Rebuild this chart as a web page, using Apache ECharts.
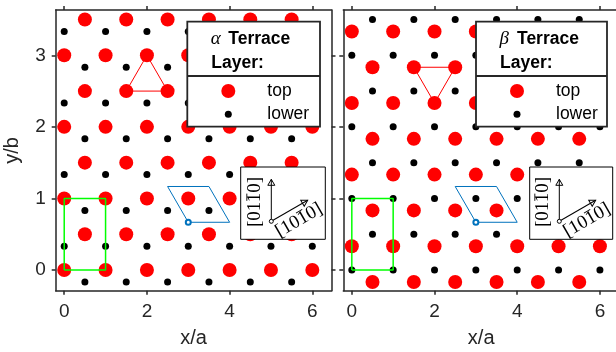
<!DOCTYPE html>
<html><head><meta charset="utf-8">
<script src="https://cdn.jsdelivr.net/npm/echarts@6/dist/echarts.min.js"></script>
<style>html,body{margin:0;padding:0;background:#fff}#c{width:616px;height:352px}</style>
</head><body><div id="c"></div>
<script>
// ---- lattice columns (x/a) ----
const intColumnsX = [0, 1, 2, 3, 4, 5, 6];
const halfColumnsX = [0.5, 1.5, 2.5, 3.5, 4.5, 5.5];
// ---- alpha terrace rows (y/b) ----
const alphaTopIntRowsY = [0, 1, 2, 3];
const alphaTopHalfRowsY = [0.5, 1.5, 2.5, 3.5];
const alphaLowerIntRowsY = [0.333, 1.333, 2.333, 3.333];
const alphaLowerHalfRowsY = [-0.167, 0.833, 1.833, 2.833];
// ---- beta terrace rows (y/b) ----
const betaTopIntRowsY = [0.333, 1.333, 2.333, 3.333];
const betaTopHalfRowsY = [-0.167, 0.833, 1.833, 2.833];
const betaLowerIntRowsY = [0, 1, 2, 3];
const betaLowerHalfRowsY = [0.5, 1.5, 2.5, 3.5];
// ---- outlines ----
const alphaTriangle = [[2, 3], [1.5, 2.5], [2.5, 2.5], [2, 3]];
const betaTriangle = [[1.5, 2.833], [2.5, 2.833], [2, 2.333], [1.5, 2.833]];
const rectCell = [[0, 0], [1, 0], [1, 1], [0, 1], [0, 0]];
const primitiveCell = [[3, 0.667], [4, 0.667], [3.5, 1.167], [2.5, 1.167], [3, 0.667]];
const primitiveOrigin = [[3, 0.667]];
// ---- ticks ----
const xTickValues = [0, 2, 4, 6];
const yTickValues = [0, 1, 2, 3];
const legendNames = ['top', 'lower'];
const panelTitles = ['\u03b1', '\u03b2'];
const titleWord = 'Terrace';
const titleLine2 = 'Layer:';
const dirLabelV = ['[01', '1', '0]'];
const dirLabelD = ['[10', '1', '0]'];

function lattice(xs, ys) { const o = []; ys.forEach(y => xs.forEach(x => o.push([x, y]))); return o; }

const XMIN = -0.206, XMAX = 6.464, YMIN = -0.289, YMAX = 3.633;
const AX = '#262626';
const G = [
  { left: 55.7, top: 10, width: 275.8, height: 280.7 },
  { left: 343.3, top: 10, width: 275.8, height: 280.7 }
];

function xAx(gi, pos, labels) {
  return {
    type: 'value', gridIndex: gi, position: pos, min: XMIN, max: XMAX,
    axisLine: { show: true, onZero: false, lineStyle: { color: AX, width: 1.5 } },
    axisTick: { show: true, inside: false, length: 4, customValues: xTickValues, lineStyle: { color: AX, width: 1.5 } },
    axisLabel: { show: labels, customValues: xTickValues, margin: 12, fontSize: 19, color: AX, fontFamily: 'Liberation Sans' },
    splitLine: { show: false },
    name: labels ? 'x/a' : '', nameLocation: 'middle', nameGap: 38,
    nameTextStyle: { fontSize: 20, color: AX, fontFamily: 'Liberation Sans' }
  };
}
function yAx(gi, pos, labels, name) {
  return {
    type: 'value', gridIndex: gi, position: pos, min: YMIN, max: YMAX,
    axisLine: { show: true, onZero: false, lineStyle: { color: AX, width: 1.5 } },
    axisTick: { show: true, inside: false, length: 4, customValues: yTickValues, lineStyle: { color: AX, width: 1.5 } },
    axisLabel: { show: labels, customValues: yTickValues, margin: 10, fontSize: 19, color: AX, fontFamily: 'Liberation Sans' },
    splitLine: { show: false },
    name: name ? 'y/b' : '', nameLocation: 'middle', nameGap: 33,
    nameTextStyle: { fontSize: 20, color: AX, fontFamily: 'Liberation Sans' }
  };
}

const panels = [
  { xi: 0, yi: 0,
    top: lattice(intColumnsX, alphaTopIntRowsY).concat(lattice(halfColumnsX, alphaTopHalfRowsY)),
    low: lattice(intColumnsX, alphaLowerIntRowsY).concat(lattice(halfColumnsX, alphaLowerHalfRowsY)),
    tri: alphaTriangle },
  { xi: 2, yi: 2,
    top: lattice(intColumnsX, betaTopIntRowsY).concat(lattice(halfColumnsX, betaTopHalfRowsY)),
    low: lattice(intColumnsX, betaLowerIntRowsY).concat(lattice(halfColumnsX, betaLowerHalfRowsY)),
    tri: betaTriangle }
];

const series = [];
panels.forEach(p => {
  series.push({ type: 'scatter', name: 'lower', xAxisIndex: p.xi, yAxisIndex: p.yi, data: p.low,
    symbol: 'circle', symbolSize: 7, itemStyle: { color: '#000', opacity: 1 }, z: 2, silent: true });
  series.push({ type: 'scatter', name: 'top', xAxisIndex: p.xi, yAxisIndex: p.yi, data: p.top,
    symbol: 'circle', symbolSize: 14, itemStyle: { color: '#ff0000', opacity: 1 }, z: 2, silent: true });
  series.push({ type: 'line', xAxisIndex: p.xi, yAxisIndex: p.yi, data: p.tri, symbol: 'none',
    lineStyle: { color: '#ff0000', width: 1 }, z: 3, silent: true });
  series.push({ type: 'line', xAxisIndex: p.xi, yAxisIndex: p.yi, data: rectCell, symbol: 'none',
    lineStyle: { color: '#00ff00', width: 1.5 }, z: 3, silent: true });
  series.push({ type: 'line', xAxisIndex: p.xi, yAxisIndex: p.yi, data: primitiveCell, symbol: 'none',
    lineStyle: { color: '#0072bd', width: 1 }, z: 3, silent: true });
  series.push({ type: 'scatter', xAxisIndex: p.xi, yAxisIndex: p.yi, data: primitiveOrigin,
    symbol: 'emptyCircle', symbolSize: 5, itemStyle: { color: '#0072bd', borderWidth: 1, opacity: 1 }, z: 3, silent: true });
});

// legend boxes
const boxes = [
  { x: 187.3, y: 21.7, w: 132.7, h: 105, sep: 76 },
  { x: 476, y: 21.7, w: 131, h: 105, sep: 76 }
];
const graphics = [];
boxes.forEach((b, i) => {
  const cx = b.x + 41;
  graphics.push({ type: 'rect', z: 50, shape: { x: b.x, y: b.y, width: b.w, height: b.h },
    style: { fill: '#fff', stroke: AX, lineWidth: 1.8 } });
  graphics.push({ type: 'line', z: 51, shape: { x1: b.x, y1: b.sep, x2: b.x + b.w, y2: b.sep },
    style: { stroke: AX, lineWidth: 1.8 } });
  graphics.push({ type: 'text', z: 52, x: b.x + 23.5, y: 39,
    style: { text: panelTitles[i], font: 'italic 19px "Liberation Serif"', fill: '#000', align: 'left', verticalAlign: 'middle' } });
  graphics.push({ type: 'text', z: 52, x: b.x + 41, y: 39,
    style: { text: titleWord, font: 'bold 17.5px "Liberation Sans"', fill: '#000', align: 'left', verticalAlign: 'middle' } });
  graphics.push({ type: 'text', z: 52, x: b.x + 24, y: 63.3,
    style: { text: titleLine2, font: 'bold 17.5px "Liberation Sans"', fill: '#000', align: 'left', verticalAlign: 'middle' } });
  graphics.push({ type: 'circle', z: 52, shape: { cx: cx, cy: 91, r: 7 }, style: { fill: '#ff0000' } });
  graphics.push({ type: 'circle', z: 52, shape: { cx: cx, cy: 114.3, r: 3.5 }, style: { fill: '#000' } });
  graphics.push({ type: 'text', z: 52, x: cx + 39, y: 91,
    style: { text: legendNames[0], font: '17.5px "Liberation Sans"', fill: '#000', align: 'left', verticalAlign: 'middle' } });
  graphics.push({ type: 'text', z: 52, x: cx + 39, y: 114.3,
    style: { text: legendNames[1], font: '17.5px "Liberation Sans"', fill: '#000', align: 'left', verticalAlign: 'middle' } });
});

// direction insets
const insets = [
  { ox: 271.3, oy: 221.3, bx: 240.7, by: 167, bw: 84.6, bh: 72.3 },
  { ox: 559.3, oy: 221.3, bx: 529.7, by: 167, bw: 83, bh: 72.3 }
];
const F = 19, L = 42;
function arrow(ox, oy, rot) {
  return { type: 'group', x: ox, y: oy, rotation: rot, z: 71, children: [
    { type: 'line', z: 71, shape: { x1: 0, y1: 0, x2: L, y2: 0 }, style: { stroke: '#000', lineWidth: 1 } },
    { type: 'polygon', z: 71, shape: { points: [[L, 0], [L - 6, -3.5], [L - 6, 3.5]] }, style: { fill: 'none', stroke: '#000', lineWidth: 1 } }
  ] };
}
function dirLabel(cx, cy, rot, parts) {
  return { type: 'group', x: cx, y: cy, rotation: rot, z: 71, children: [
    { type: 'text', z: 71, style: { text: parts.join(''), x: 0, y: 0, align: 'center', verticalAlign: 'middle',
      font: F + 'px "Liberation Serif"', fill: '#000' } },
    { type: 'line', z: 71, shape: { x1: 0.06 * F, y1: -0.42 * F, x2: 0.44 * F, y2: -0.42 * F }, style: { stroke: '#000', lineWidth: 0.9 } }
  ] };
}
insets.forEach(s => {
  graphics.push({ type: 'rect', z: 70, shape: { x: s.bx, y: s.by, width: s.bw, height: s.bh },
    style: { fill: '#fff', stroke: '#000', lineWidth: 1 } });
  graphics.push(arrow(s.ox, s.oy, Math.PI / 2));
  graphics.push(arrow(s.ox, s.oy, Math.PI / 6));
  graphics.push({ type: 'circle', z: 72, shape: { cx: s.ox, cy: s.oy, r: 2 }, style: { fill: '#fff', stroke: '#000', lineWidth: 1 } });
  graphics.push(dirLabel(s.ox - 16.5, s.oy - 19.3, Math.PI / 2, dirLabelV));
  graphics.push(dirLabel(s.ox + 27.7, s.oy - 0.8, Math.PI / 6, dirLabelD));
});

const chart = echarts.init(document.getElementById('c'), null, { renderer: 'canvas' });
chart.setOption({
  animation: false,
  backgroundColor: '#fff',
  grid: G.map(g => Object.assign({ containLabel: false, outerBoundsMode: 'none' }, g)),
  xAxis: [xAx(0, 'bottom', true), xAx(0, 'top', false), xAx(1, 'bottom', true), xAx(1, 'top', false)],
  yAxis: [yAx(0, 'left', true, true), yAx(0, 'right', false, false), yAx(1, 'left', false, false), yAx(1, 'right', false, false)],
  series: series,
  graphic: { elements: graphics }
});
</script></body></html>
